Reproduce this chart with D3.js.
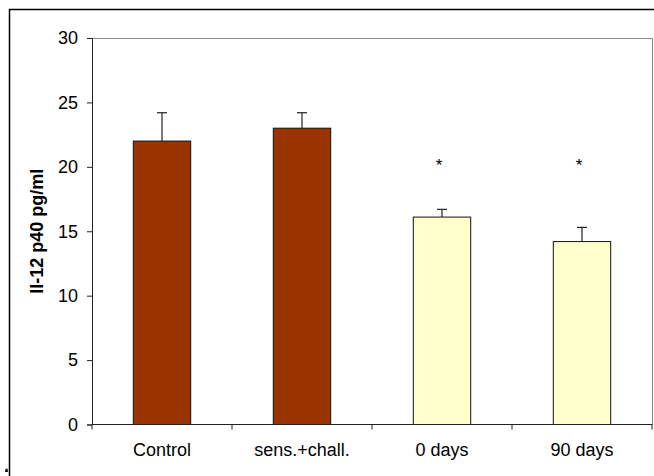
<!DOCTYPE html>
<html>
<head>
<meta charset="utf-8">
<script src="https://cdn.jsdelivr.net/npm/d3@7"></script>
<style>
  html, body { margin: 0; padding: 0; background: #fff; }
  svg { display: block; }
  text { font-family: "Liberation Sans", Arial, sans-serif; }
</style>
</head>
<body>
<svg id="chart" width="654" height="476"></svg>
<script>
// IL-12 p40 levels per group
const categories = ["Control", "sens.+chall.", "0 days", "90 days"];
const values = [22.0, 23.0, 16.1, 14.2];
const errors = [2.2, 1.2, 0.6, 1.1];
const significant = [false, false, true, true];
const starLevel = 20.4;
const yTicks = [0, 5, 10, 15, 20, 25, 30];
const yTitle = "Il-12 p40 pg/ml";
const fills = ["#993300", "#993300", "#FFFFCC", "#FFFFCC"];

const svg = d3.select("#chart");
const plot = { left: 92, right: 652, top: 38, bottom: 424.5 };

const x = d3.scaleBand()
  .domain(categories)
  .range([plot.left, plot.right])
  .paddingInner(0.59)
  .paddingOuter(0.295);

const y = d3.scaleLinear().domain([0, 30]).range([plot.bottom, plot.top]);

// outer frame (top and left edges)
svg.append("path")
  .attr("d", `M9.5,476 V9.5 H654`)
  .attr("fill", "none")
  .attr("stroke", "#000")
  .attr("stroke-width", 1.5);

// small mark at the frame's lower-left corner
svg.append("path")
  .attr("d", "M5,472 L5.5,469 L7.5,468.5 L8,472 Z")
  .attr("fill", "#111");

// plot area border (top and right)
svg.append("path")
  .attr("d", `M${plot.left},${plot.top + 0.5} H${plot.right + 0.5} V${plot.bottom}`)
  .attr("fill", "none")
  .attr("stroke", "#888")
  .attr("stroke-width", 1);

// bars
svg.append("g").selectAll("rect")
  .data(values)
  .join("rect")
  .attr("x", (d, i) => x(categories[i]))
  .attr("y", d => y(d))
  .attr("width", x.bandwidth())
  .attr("height", d => y(0) - y(d))
  .attr("fill", (d, i) => fills[i])
  .attr("stroke", "#111")
  .attr("stroke-width", 1);

// error bars (upper only)
const eb = svg.append("g").attr("stroke", "#222").attr("stroke-width", 1.2);
values.forEach((v, i) => {
  const cx = x(categories[i]) + x.bandwidth() / 2;
  eb.append("line").attr("x1", cx).attr("x2", cx).attr("y1", y(v)).attr("y2", y(v + errors[i]));
  eb.append("line").attr("x1", cx - 5).attr("x2", cx + 5).attr("y1", y(v + errors[i])).attr("y2", y(v + errors[i]));
});

// significance markers
svg.append("g").selectAll("text")
  .data(categories.filter((c, i) => significant[i]))
  .join("text")
  .attr("x", d => x(d) + x.bandwidth() / 2 - 3)
  .attr("y", y(starLevel) + 9)
  .attr("text-anchor", "middle")
  .attr("font-size", 17)
  .attr("fill", "#000")
  .text("*");

// y axis
const yAxis = svg.append("g")
  .attr("transform", `translate(${plot.left},0)`)
  .call(d3.axisLeft(y).tickValues(yTicks).tickSize(5).tickPadding(9).tickFormat(d3.format("d")));
yAxis.select(".domain").attr("stroke", "#222");
yAxis.selectAll(".tick line").attr("stroke", "#222");
yAxis.selectAll("text").attr("font-size", 18).attr("fill", "#000");

// x axis with ticks between categories
const xAxis = svg.append("g").attr("transform", `translate(0,${plot.bottom})`);
xAxis.append("line")
  .attr("x1", plot.left).attr("x2", plot.right + 0.5)
  .attr("stroke", "#222");
const step = x.step();
const bounds = d3.range(categories.length + 1).map(i => plot.left + i * step);
xAxis.selectAll(".xtick")
  .data(bounds)
  .join("line")
  .attr("x1", d => d).attr("x2", d => d)
  .attr("y1", 0).attr("y2", 5)
  .attr("stroke", "#222");
xAxis.selectAll(".xlabel")
  .data(categories)
  .join("text")
  .attr("x", d => x(d) + x.bandwidth() / 2)
  .attr("y", 31)
  .attr("text-anchor", "middle")
  .attr("font-size", 18)
  .attr("fill", "#000")
  .text(d => d);

// y axis title
svg.append("text")
  .attr("transform", `translate(43,${(plot.top + plot.bottom) / 2}) rotate(-90)`)
  .attr("text-anchor", "middle")
  .attr("font-size", 18)
  .attr("font-weight", "bold")
  .attr("fill", "#000")
  .text(yTitle);
</script>
</body>
</html>
